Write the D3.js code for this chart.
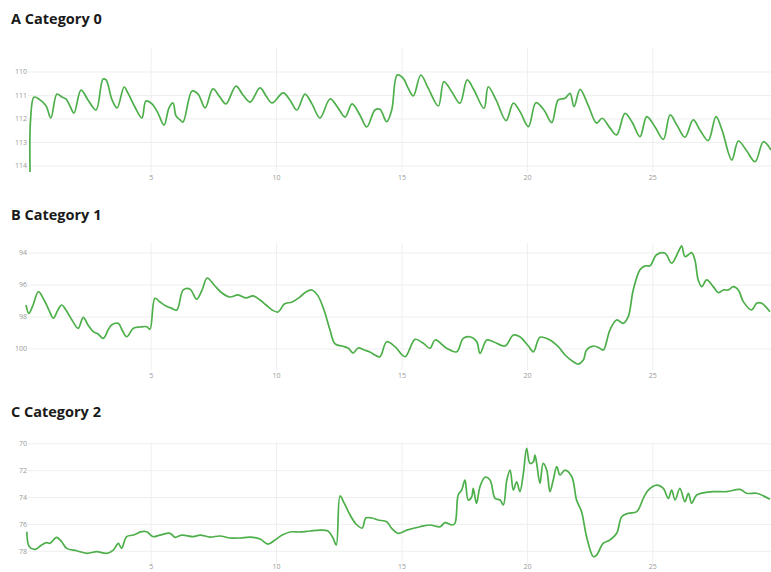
<!DOCTYPE html>
<html>
<head>
<meta charset="utf-8">
<script src="https://cdn.jsdelivr.net/npm/d3@7"></script>
<style>
  html, body { margin: 0; padding: 0; background: #fff; }
  svg { display: block; }
  .title { font-family: "Open Sans", "Noto Sans", sans-serif; font-weight: 700; fill: #1a1a1a; }
  .tick text { font-family: "Open Sans", "Noto Sans", sans-serif; fill: #999; }
</style>
</head>
<body>
<svg id="chart" width="771" height="572"></svg>
<script>
// Panel titles
const titles = ["A Category 0", "B Category 1", "C Category 2"];

// Shared time ticks
const xTicks = [5, 10, 15, 20, 25];

// Value ticks per panel (axes run top-down)
const yTicksA = [110, 111, 112, 113, 114];
const yTicksB = [94, 96, 98, 100];
const yTicksC = [70, 72, 74, 76, 78];

// Series 0: [t, value]
const seriesA = [
  [0.19,114.28],[0.21,112.06],[0.35,111.09],[0.59,111.21],[0.83,111.47],[1.02,111.98],
  [1.26,110.96],[1.46,111.09],[1.62,111.17],[1.78,111.47],[1.94,111.77],[2.22,110.79],
  [2.50,111.21],[2.82,111.64],[3.10,110.32],[3.22,110.36],[3.46,111.21],[3.66,111.55],
  [3.94,110.66],[4.09,110.91],[4.37,111.51],[4.65,111.98],[4.81,111.26],[5.05,111.38],
  [5.29,111.77],[5.53,112.28],[5.73,111.55],[5.89,111.34],[6.01,111.89],[6.17,112.06],
  [6.29,112.15],[6.65,110.83],[6.89,110.96],[7.17,111.55],[7.48,110.74],[7.76,111.09],
  [8.00,111.38],[8.40,110.62],[8.68,111.00],[8.96,111.30],[9.36,110.70],[9.60,111.04],
  [9.84,111.34],[10.28,110.91],[10.55,111.21],[10.83,111.64],[11.15,110.96],[11.43,111.38],
  [11.75,111.98],[12.15,111.17],[12.47,111.55],[12.75,111.94],[13.03,111.38],[13.34,111.85],
  [13.62,112.36],[13.94,111.64],[14.14,111.61],[14.41,112.14],[14.61,111.64],[14.83,110.15],
  [15.07,110.29],[15.26,110.70],[15.47,111.04],[15.77,110.15],[16.06,110.70],[16.47,111.47],
  [16.69,110.43],[17.01,110.87],[17.33,111.35],[17.62,110.36],[17.89,110.79],[18.29,111.57],
  [18.46,110.65],[18.77,111.21],[19.17,112.09],[19.46,111.35],[19.73,111.72],[20.06,112.35],
  [20.36,111.33],[20.68,111.64],[20.99,112.18],[21.25,111.21],[21.52,111.14],[21.72,110.93],
  [21.88,111.50],[22.12,110.76],[22.44,111.43],[22.78,112.20],[23.00,111.99],[23.31,112.40],
  [23.58,112.70],[23.91,111.78],[24.19,112.15],[24.51,112.77],[24.78,111.92],[25.11,112.36],
  [25.44,112.89],[25.71,111.85],[25.98,112.28],[26.30,112.80],[26.63,112.06],[26.90,112.49],
  [27.23,112.94],[27.54,111.92],[27.78,112.49],[28.17,113.77],[28.43,112.96],[28.74,113.34],
  [29.10,113.84],[29.43,112.99],[29.73,113.34]
];

// Series 1: [t, value]
const seriesB = [
  [0.03,97.28],[0.14,97.80],[0.31,97.28],[0.52,96.45],[0.75,96.97],[0.94,97.59],[1.12,98.11],
  [1.30,97.59],[1.45,97.28],[1.62,97.59],[1.86,98.22],[2.11,98.74],[2.31,98.05],[2.50,98.53],
  [2.71,98.95],[2.90,99.10],[3.11,99.37],[3.30,98.85],[3.44,98.53],[3.71,98.43],[3.86,98.85],
  [4.04,99.27],[4.31,98.74],[4.57,98.66],[4.84,98.64],[4.97,98.80],[5.17,96.86],[5.37,97.09],
  [5.61,97.34],[5.84,97.49],[6.04,97.59],[6.30,96.34],[6.57,96.29],[6.83,96.92],[7.05,96.34],
  [7.25,95.59],[7.53,96.03],[7.84,96.53],[8.16,96.78],[8.48,96.65],[8.80,96.84],[9.08,96.71],
  [9.36,96.97],[9.60,97.28],[9.84,97.59],[10.08,97.72],[10.33,97.22],[10.64,97.09],[10.95,96.78],
  [11.19,96.46],[11.43,96.34],[11.67,96.71],[11.91,97.59],[12.15,98.85],[12.35,99.72],[12.63,99.85],
  [12.87,99.97],[13.07,100.29],[13.27,99.97],[13.51,100.10],[13.74,100.22],[13.94,100.41],
  [14.14,100.52],[14.41,99.58],[14.74,99.89],[15.14,100.52],[15.54,99.43],[15.87,99.68],
  [16.14,99.99],[16.34,99.47],[16.80,99.99],[17.20,100.21],[17.46,99.37],[17.73,99.27],
  [18.00,99.58],[18.13,100.31],[18.40,99.47],[18.66,99.58],[19.13,99.85],[19.46,99.16],
  [19.72,99.27],[20.06,99.85],[20.26,100.21],[20.52,99.30],[20.92,99.47],[21.25,99.89],
  [21.52,100.41],[21.85,100.83],[22.05,100.98],[22.25,100.73],[22.38,100.10],[22.65,99.85],
  [22.91,99.99],[23.05,100.10],[23.31,98.85],[23.58,98.22],[23.84,98.43],[24.04,98.01],
  [24.24,96.34],[24.51,95.08],[24.71,94.83],[24.91,94.83],[25.17,94.14],[25.51,94.04],
  [25.77,94.66],[26.04,93.94],[26.17,93.58],[26.30,94.25],[26.44,94.14],[26.57,94.00],
  [26.70,94.46],[26.83,95.71],[26.97,96.13],[27.17,95.71],[27.43,96.13],[27.63,96.51],
  [27.83,96.34],[28.03,96.34],[28.23,96.13],[28.43,96.34],[28.63,97.07],[28.96,97.59],
  [29.16,97.17],[29.36,97.17],[29.69,97.70]
];

// Series 2: [t, value]
const seriesC = [
  [0.06,76.58],[0.16,77.70],[0.39,77.89],[0.65,77.57],[0.85,77.40],[0.98,77.45],[1.25,77.00],
  [1.45,77.33],[1.65,77.82],[2.05,78.00],[2.45,78.19],[2.85,78.07],[3.25,78.19],[3.51,77.95],
  [3.71,77.45],[3.84,77.82],[4.04,76.95],[4.31,76.83],[4.64,76.58],[4.84,76.58],[5.10,76.95],
  [5.37,76.83],[5.77,76.70],[5.97,77.00],[6.24,76.83],[6.70,76.95],[6.97,76.83],[7.36,76.98],
  [7.76,76.90],[8.16,77.05],[8.56,77.05],[8.96,76.98],[9.36,77.13],[9.68,77.50],[9.96,77.20],
  [10.24,76.83],[10.56,76.60],[10.95,76.60],[11.35,76.53],[11.75,76.46],[12.07,76.53],
  [12.27,77.05],[12.40,77.57],[12.55,73.92],[12.71,74.44],[12.95,75.34],[13.19,76.01],
  [13.43,76.31],[13.58,75.56],[13.82,75.56],[14.06,75.71],[14.41,75.84],[14.61,76.33],
  [14.87,76.70],[15.21,76.46],[15.74,76.21],[16.14,76.08],[16.54,76.21],[16.73,75.91],
  [17.00,76.08],[17.13,75.96],[17.26,73.85],[17.40,73.48],[17.53,72.73],[17.66,74.22],
  [17.80,73.98],[17.86,73.35],[17.99,74.47],[18.13,73.23],[18.33,72.53],[18.53,72.73],
  [18.73,74.10],[18.93,74.22],[19.06,74.59],[19.20,72.73],[19.33,71.99],[19.46,73.48],
  [19.59,72.86],[19.72,73.60],[19.86,72.23],[19.99,70.37],[20.12,71.49],[20.26,71.37],
  [20.32,70.87],[20.39,71.49],[20.52,72.98],[20.65,71.49],[20.79,71.99],[20.92,73.60],
  [21.05,72.73],[21.19,71.74],[21.32,72.36],[21.52,71.99],[21.79,72.49],[21.98,74.22],
  [22.18,75.09],[22.38,76.95],[22.65,78.44],[22.78,78.32],[23.04,77.45],[23.31,77.20],
  [23.58,76.70],[23.78,75.47],[24.04,75.21],[24.38,75.09],[24.64,74.10],[24.84,73.48],
  [25.18,73.11],[25.44,73.35],[25.64,74.10],[25.77,73.48],[25.91,74.22],[26.10,73.35],
  [26.30,74.35],[26.44,73.72],[26.57,74.47],[26.77,73.85],[27.43,73.60],[27.96,73.60],
  [28.50,73.43],[28.76,73.72],[29.16,73.72],[29.69,74.17]
];

const panels = [
  { title: titles[0], data: seriesA, ticks: yTicksA, domain: [109.0, 114.3], top: 48,  bottom: 172.5, titleY: 24,    xPad: 3 },
  { title: titles[1], data: seriesB, ticks: yTicksB, domain: [93.4, 101.35], top: 243, bottom: 370,   titleY: 220,   xPad: 3 },
  { title: titles[2], data: seriesC, ticks: yTicksC, domain: [69.88, 79.0],  top: 441.7, bottom: 564.2, titleY: 417.3, xPad: 0 }
];

const svg = d3.select("#chart");
const lineColor = "#4daf4a";
const gridColor = "#efefef";
const x = d3.scaleLinear().domain([0, 30]).range([25.3, 777.7]);
const plotLeft = 28, plotRight = 771;

panels.forEach((p) => {
  const g = svg.append("g");
  const y = d3.scaleLinear().domain(p.domain).range([p.top, p.bottom]);

  g.append("text").attr("class", "title")
    .attr("x", 11).attr("y", p.titleY)
    .style("font-size", "14.5px")
    .text(p.title);

  // vertical grid + time labels
  const xAxis = d3.axisBottom(x).tickValues(xTicks).tickFormat(d3.format("d"))
    .tickSize(-(p.bottom - p.top)).tickPadding(p.xPad);
  const gx = g.append("g").attr("transform", `translate(0,${p.bottom})`).call(xAxis);
  gx.select(".domain").remove();
  gx.selectAll(".tick line").attr("stroke", gridColor).attr("stroke-width", 1);
  gx.selectAll(".tick text").style("font-size", "7px");

  // horizontal grid + value labels
  const yAxis = d3.axisLeft(y).tickValues(p.ticks).tickFormat(d3.format("d"))
    .tickSize(-(plotRight - plotLeft)).tickPadding(1);
  const gy = g.append("g").attr("transform", `translate(${plotLeft},0)`).call(yAxis);
  gy.select(".domain").remove();
  gy.selectAll(".tick line").attr("stroke", gridColor).attr("stroke-width", 1);
  gy.selectAll(".tick text").style("font-size", "7px");

  const line = d3.line().curve(d3.curveCatmullRom.alpha(0.5))
    .x(d => x(d[0])).y(d => y(d[1]));
  g.append("path").datum(p.data)
    .attr("d", line)
    .attr("fill", "none")
    .attr("stroke", lineColor)
    .attr("stroke-width", 1.7)
    .attr("stroke-linejoin", "round");
});
</script>
</body>
</html>
